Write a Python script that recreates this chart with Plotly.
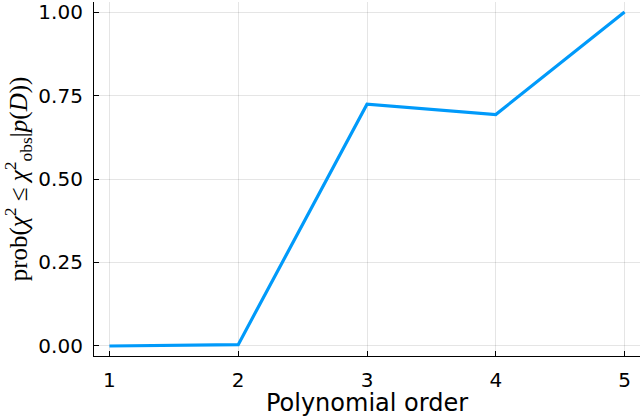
import plotly.graph_objects as go

orders = [1, 2, 3, 4, 5]
prob = [0.0, 0.004, 0.724, 0.693, 1.0]
y_ticks = [0.0, 0.25, 0.5, 0.75, 1.0]
y_ticktext = ['0.00', '0.25', '0.50', '0.75', '1.00']

fig = go.Figure()
fig.add_trace(go.Scatter(x=orders, y=prob, mode='lines',
                         line=dict(color='#009AFA', width=3.2),
                         showlegend=False))

axis_style = dict(showgrid=True, gridcolor='rgba(0,0,0,0.1)', gridwidth=1,
                  zeroline=False, showline=True, linecolor='black', linewidth=1.2,
                  ticks='inside', ticklen=5, tickcolor='black',
                  tickfont=dict(family='DejaVu Sans', size=20, color='black'),
                  ticklabeloverflow='allow', mirror=False)

fig.update_xaxes(range=[0.88, 5.12], tickvals=orders, ticklabelstandoff=6,
                 title=dict(text='Polynomial order',
                            font=dict(family='DejaVu Sans', size=24, color='black'),
                            standoff=0),
                 **axis_style)
fig.update_yaxes(range=[-0.03, 1.03], tickvals=y_ticks, ticktext=y_ticktext,
                 ticklabelstandoff=6,
                 title=dict(text='prob(<i>χ</i><sup>2</sup> ≤ <i>χ</i><sup>2</sup><sub>obs</sub>|<i>p</i>(<i>D</i>))',
                            font=dict(family='Liberation Serif', size=25, color='black'),
                            standoff=6),
                 **axis_style)

fig.update_layout(width=640, height=417,
                  margin=dict(l=94, r=0, t=0, b=61),
                  plot_bgcolor='white', paper_bgcolor='white')

fig.write_html("out.html", config={'displayModeBar': False},
               post_script="document.body.style.margin='0';")
